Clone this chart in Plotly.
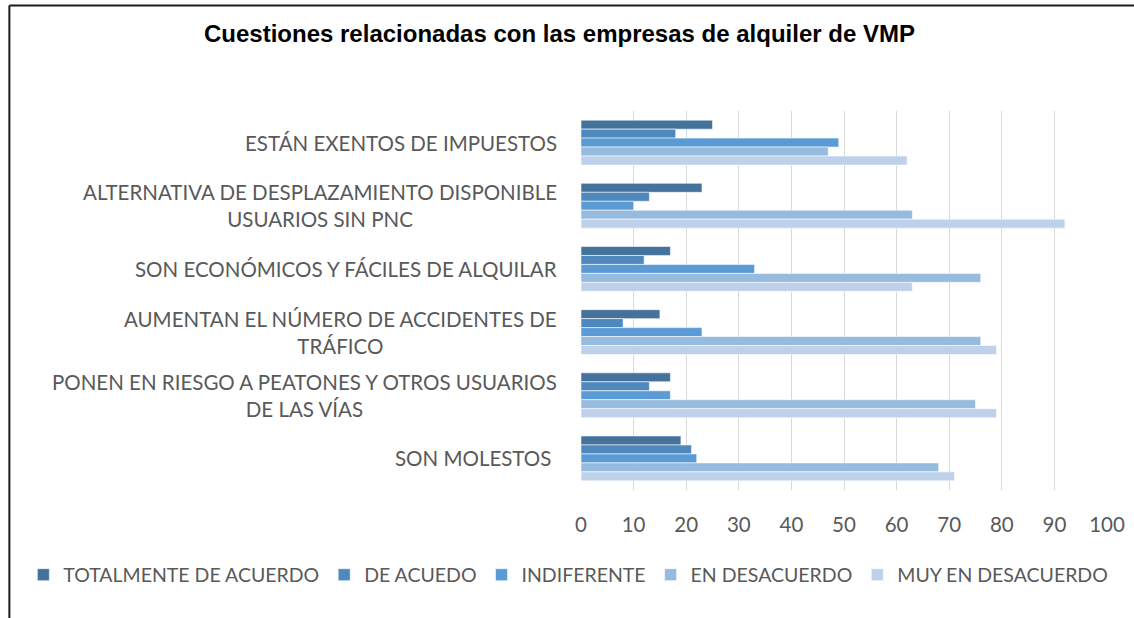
import plotly.graph_objects as go

categories = [
    "ESTÁN EXENTOS DE IMPUESTOS",
    "ALTERNATIVA DE DESPLAZAMIENTO DISPONIBLE<br>USUARIOS SIN PNC",
    "SON ECONÓMICOS Y FÁCILES DE ALQUILAR",
    "AUMENTAN EL NÚMERO DE ACCIDENTES DE<br>TRÁFICO",
    "PONEN EN RIESGO A PEATONES Y OTROS USUARIOS<br>DE LAS VÍAS",
    "SON MOLESTOS\u00a0",
]
series_names = ["TOTALMENTE DE ACUERDO", "DE ACUEDO", "INDIFERENTE", "EN DESACUERDO", "MUY EN DESACUERDO"]
totalmente = [25, 23, 17, 15, 17, 19]
de_acuerdo = [18, 13, 12, 8, 13, 21]
indiferente = [49, 10, 33, 23, 17, 22]
en_desacuerdo = [47, 63, 76, 76, 75, 68]
muy_en_desacuerdo = [62, 92, 63, 79, 79, 71]
x_ticks = [0, 10, 20, 30, 40, 50, 60, 70, 80, 90, 100]
title = "Cuestiones relacionadas con las empresas de alquiler de VMP"

colors = ["#44729D", "#4E88BD", "#5B9BD5", "#97BADF", "#BDD2EA"]
values = [totalmente, de_acuerdo, indiferente, en_desacuerdo, muy_en_desacuerdo]

W, H = 1134, 618
ML, MR, MT, MB = 580.5, 26.7, 111, 128
PW = W - ML - MR
PH = H - MT - MB

def px_x(x):
    return (x - ML) / PW

def px_y(y):
    return (H - MB - y) / PH

FONT = "Lato"
FS = 20.5
fig = go.Figure()
for name, vals, col in zip(series_names, values, colors):
    fig.add_trace(go.Bar(
        y=list(range(len(categories))), x=vals, name=name, orientation="h",
        marker=dict(color=col, line=dict(color="rgba(255,255,255,0.7)", width=0.8)),
    ))

annotations = [
    dict(text=f"<b>{title}</b>", x=px_x(559), y=px_y(33), xref="paper", yref="paper",
         xanchor="center", yanchor="middle", showarrow=False,
         font=dict(family="Liberation Sans, Arial", size=24, color="#000000")),
]
for i, c in enumerate(categories):
    annotations.append(dict(
        text=c, x=px_x(558), y=i, xref="paper", yref="y", xanchor="right", yanchor="middle",
        align="center", showarrow=False,
        font=dict(family=FONT, size=FS, color="#595959"),
    ))

shapes = [
    dict(type="line", xref="paper", yref="paper", x0=px_x(8), x1=px_x(1140),
         y0=px_y(5.5), y1=px_y(5.5), line=dict(color="#1a1a1a", width=2)),
    dict(type="line", xref="paper", yref="paper", x0=px_x(8), x1=px_x(8),
         y0=px_y(5.5), y1=px_y(630), line=dict(color="#1a1a1a", width=2)),
]

fig.update_layout(
    width=W, height=H,
    margin=dict(l=ML, r=MR, t=MT, b=MB, pad=0, autoexpand=False),
    paper_bgcolor="white", plot_bgcolor="white",
    barmode="group", bargap=0.29, bargroupgap=0,
    font=dict(family=FONT, color="#595959"),
    xaxis=dict(range=[0, 100], tickvals=x_ticks, showgrid=True, gridcolor="#D9D9D9", gridwidth=1,
               zeroline=False, showline=False, ticks="outside", ticklen=16, tickcolor="rgba(0,0,0,0)",
               tickfont=dict(family=FONT, size=FS, color="#595959")),
    yaxis=dict(range=[len(categories) - 0.5, -0.5], showticklabels=False, showgrid=False,
               zeroline=False, showline=False),
    legend=dict(orientation="h", x=px_x(22), xanchor="left", y=px_y(575), yanchor="middle",
                font=dict(family=FONT, size=19.5, color="#595959"), itemwidth=30,
                traceorder="normal", itemclick=False, bgcolor="rgba(0,0,0,0)"),
    annotations=annotations, shapes=shapes, showlegend=True,
)

fig.write_html("out.html", config={"displayModeBar": False},
               post_script="document.body.style.margin='0px';")
